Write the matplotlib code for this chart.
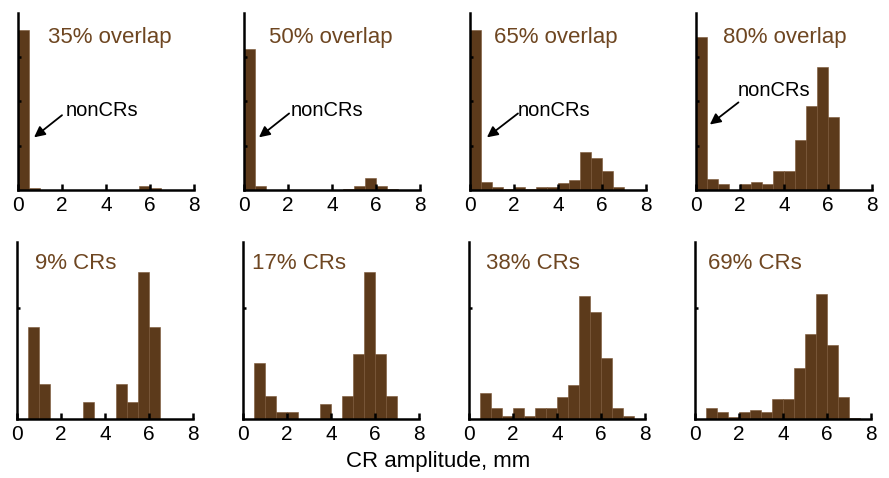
import numpy as np
import matplotlib.pyplot as plt

plt.rcParams['font.family'] = ['Liberation Sans', 'DejaVu Sans']

# histogram bin edges, 0.5 mm wide
edges = np.arange(0, 8.01, 0.5)

# top row: overlap conditions (heights per bin)
overlap_labels = ['35% overlap', '50% overlap', '65% overlap', '80% overlap']
h35 = [3.62, 0.04, 0, 0, 0, 0, 0, 0, 0, 0, 0, 0.10, 0.04, 0, 0, 0]
h50 = [3.18, 0.08, 0, 0, 0, 0, 0, 0, 0, 0.02, 0.09, 0.26, 0.10, 0.02, 0, 0]
h65 = [3.62, 0.18, 0.07, 0.02, 0.07, 0.02, 0.07, 0.07, 0.15, 0.22, 0.85, 0.73, 0.42, 0.07, 0, 0]
h80 = [3.46, 0.24, 0.14, 0.0, 0.13, 0.18, 0.13, 0.43, 0.43, 1.12, 1.90, 2.79, 1.65, 0, 0, 0]

# bottom row: CR percentage conditions
cr_labels = ['9% CRs', '17% CRs', '38% CRs', '69% CRs']
h09 = [0, 0.83, 0.32, 0, 0, 0, 0.155, 0, 0, 0.32, 0.155, 1.33, 0.83, 0, 0, 0]
h17 = [0, 0.51, 0.21, 0.06, 0.06, 0, 0, 0.14, 0, 0.21, 0.585, 1.33, 0.585, 0.21, 0, 0]
h38 = [0, 0.235, 0.095, 0.03, 0.095, 0.03, 0.095, 0.095, 0.20, 0.31, 1.11, 0.97, 0.55, 0.095, 0.03, 0]
h69 = [0, 0.10, 0.063, 0.015, 0.06, 0.078, 0.06, 0.185, 0.185, 0.457, 0.77, 1.13, 0.665, 0.20, 0.01, 0]

top_data = [h35, h50, h65, h80]
bot_data = [h09, h17, h38, h69]

bar_col = '#5C3A1B'
txt_col = '#6E4621'

fig = plt.figure(figsize=(8.89, 4.78), dpi=100)

lefts = [18, 244, 470, 696]
W = 176 / 889
H = 177 / 478
top_title_x = [0.17, 0.142, 0.138, 0.152]
bot_title_x = [0.104, 0.051, 0.099, 0.074]
# arrow head, tail and text position (data coords) for the nonCRs label
arrows = [((0.73, 1.19), (2.0, 1.69), (2.19, 1.8)),
          ((0.68, 1.19), (2.05, 1.73), (2.13, 1.8)),
          ((0.77, 1.19), (2.18, 1.73), (2.19, 1.8)),
          ((0.63, 1.48), (1.93, 1.98), (1.89, 2.25))]


def style(ax, ymax, yticks):
    ax.set_xlim(0, 8)
    ax.set_ylim(0, ymax)
    for s in ['top', 'right']:
        ax.spines[s].set_visible(False)
    for s in ['left', 'bottom']:
        ax.spines[s].set_linewidth(1.8)
    ax.set_xticks([0, 2, 4, 6, 8])
    ax.set_yticks(yticks)
    ax.set_yticklabels([])
    ax.tick_params(axis='x', direction='in', length=4, width=1.8, labelsize=15, pad=4)
    ax.tick_params(axis='y', direction='in', length=2.5, width=1.8)
    ax.patch.set_alpha(0)


for i in range(4):
    ax = fig.add_axes([lefts[i] / 889, 1 - 190 / 478, W, H])
    ax.bar(edges[:-1], top_data[i], width=0.5, align='edge', color=bar_col,
           edgecolor='#7A5535', linewidth=0.4, zorder=1)
    style(ax, 4, [1, 2, 3])
    ax.text(top_title_x[i], 0.864, overlap_labels[i], transform=ax.transAxes,
            color=txt_col, fontsize=16, va='center', ha='left')
    head, tail, tpos = arrows[i]
    ax.annotate('', xy=head, xytext=tail,
                arrowprops=dict(arrowstyle='-|>', color='black', lw=1.3,
                                mutation_scale=16, shrinkA=0, shrinkB=0))
    ax.text(tpos[0], tpos[1], 'nonCRs', fontsize=14.5, va='center', ha='left')

for i in range(4):
    ax = fig.add_axes([(lefts[i] - 1) / 889, 1 - 419 / 478, W, H])
    ax.bar(edges[:-1], bot_data[i], width=0.5, align='edge', color=bar_col,
           edgecolor='#7A5535', linewidth=0.4, zorder=1)
    style(ax, 1.6, [1])
    ax.text(bot_title_x[i], 0.88, cr_labels[i], transform=ax.transAxes,
            color=txt_col, fontsize=16, va='center', ha='left')

fig.text(438 / 889, 1 - 461 / 478, 'CR amplitude, mm', fontsize=16,
         ha='center', va='center')

fig.savefig('out.png', dpi=100)
